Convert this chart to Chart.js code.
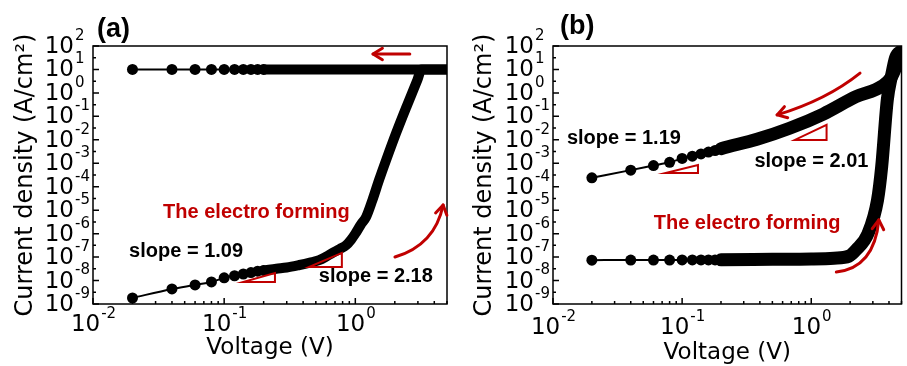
<!DOCTYPE html>
<html>
<head>
<meta charset="utf-8">
<script src="https://cdn.jsdelivr.net/npm/chart.js@4.4.1/dist/chart.umd.min.js"></script>
<style>
  html, body { margin: 0; padding: 0; background: #fff; }
  #wrap { position: relative; width: 907px; height: 366px; }
  .panel { position: absolute; top: 0; }
</style>
</head>
<body>
<div id="wrap">
  <div class="panel" style="left:0;width:460px;height:366px"><canvas id="chartA" width="460" height="366"></canvas></div>
  <div class="panel" style="left:460px;width:447px;height:366px"><canvas id="chartB" width="447" height="366"></canvas></div>
</div>
<script>
// axis ticks (decades) and their exponents
const xTicks = [0.01, 0.1, 1];
const xTickExp = ['-2', '-1', '0'];
const yTicks = [1e-9, 1e-8, 1e-7, 1e-6, 1e-5, 1e-4, 1e-3, 1e-2, 1e-1, 1, 10, 100];
const yTickExp = ['-9', '-8', '-7', '-6', '-5', '-4', '-3', '-2', '-1', '0', '1', '2'];

// (a) forming sweep (0 -> 5 V) and return sweep (5 -> 0 V)
const aFormV = [0.02, 0.04, 0.06, 0.08, 0.1, 0.12, 0.14, 0.16, 0.18, 0.2, 0.25, 0.3, 0.375, 0.45, 0.53, 0.6, 0.67, 0.76, 0.85, 0.93, 1.0, 1.1, 1.21, 1.35, 1.52, 1.72, 2.05, 2.45, 2.97, 3.2, 5];
const aFormJ = [1.8e-9, 4.4e-9, 6.5e-9, 8.7e-9, 1.3e-8, 1.6e-8, 1.9e-8, 2.2e-8, 2.5e-8, 2.7e-8, 3.2e-8, 3.6e-8, 4.6e-8, 5.8e-8, 7.4e-8, 1.05e-7, 1.5e-7, 2.2e-7, 3.2e-7, 5.6e-7, 1.0e-6, 2.4e-6, 5.2e-6, 2.7e-5, 2.0e-4, 1.4e-3, 2.0e-2, 0.25, 3.5, 10, 10];
const aBackV = [5, 3, 2, 1, 0.5, 0.3, 0.2, 0.18, 0.16, 0.14, 0.12, 0.1, 0.08, 0.06, 0.04, 0.02];
const aBackJ = [10, 10, 10, 10, 10, 10, 10, 10, 10, 10, 10, 10, 10, 10, 10, 10];

// (b)
const bFormV = [0.02, 0.04, 0.06, 0.08, 0.1, 0.12, 0.14, 0.16, 0.18, 0.2, 0.5, 1.0, 1.5, 1.96, 2.22, 2.75, 3.26, 3.51, 3.88, 4.17, 4.5, 5];
const bFormJ = [7.4e-8, 7.5e-8, 7.5e-8, 7.5e-8, 7.6e-8, 7.6e-8, 7.6e-8, 7.6e-8, 7.6e-8, 7.7e-8, 8.0e-8, 8.3e-8, 9.0e-8, 1.1e-7, 2.0e-7, 1.0e-6, 2.7e-5, 7.0e-4, 0.5, 4.8, 32, 63];
const bBackV = [5, 4.6, 4.2, 3.56, 2.22, 1.24, 0.68, 0.38, 0.2, 0.18, 0.16, 0.14, 0.12, 0.1, 0.08, 0.06, 0.04, 0.02];
const bBackJ = [63, 16, 5.0, 2.0, 0.69, 0.126, 0.031, 0.0105, 0.0042, 0.0035, 0.003, 0.0025, 0.002, 0.0016, 0.0011, 0.0008, 0.00051, 0.00024];

const RED = '#c00000';
const FONT = '"DejaVu Sans", sans-serif';
const NOTE_FONT = 'bold 20px "Liberation Sans", Arial, sans-serif';

function px(ca, p) { return [ca.left + p[0] * ca.width, ca.top + p[1] * ca.height]; }

// frame, inward ticks, 10^n labels and the red/black notes
const decor = {
  id: 'decor',
  afterDatasetsDraw(chart, args, opts) {
    const ctx = chart.ctx, ca = chart.chartArea;
    const xs = chart.scales.x, ys = chart.scales.y;
    ctx.save();
    ctx.strokeStyle = '#000';
    ctx.lineWidth = 1.5;
    ctx.strokeRect(ca.left, ca.top, ca.width, ca.height);

    ctx.beginPath();
    yTicks.forEach(v => {
      const p = ys.getPixelForValue(v);
      ctx.moveTo(ca.left, p); ctx.lineTo(ca.left + 6, p);
    });
    for (let i = 0; i < yTicks.length - 1; i++) {
      const p = (ys.getPixelForValue(yTicks[i]) + ys.getPixelForValue(yTicks[i + 1])) / 2;
      ctx.moveTo(ca.left, p); ctx.lineTo(ca.left + 3, p);
    }
    xTicks.forEach(d => {
      const p = xs.getPixelForValue(d);
      ctx.moveTo(p, ca.bottom); ctx.lineTo(p, ca.bottom - 6);
      for (let m = 2; m <= 9; m++) {
        if (d * m > xs.max) break;
        const q = xs.getPixelForValue(d * m);
        ctx.moveTo(q, ca.bottom); ctx.lineTo(q, ca.bottom - 3);
      }
    });
    ctx.stroke();

    ctx.fillStyle = '#000';
    ctx.textBaseline = 'middle';
    yTicks.forEach((v, i) => {
      const p = ys.getPixelForValue(v);
      ctx.font = '23px ' + FONT; ctx.textAlign = 'right';
      ctx.fillText('10', ca.left - 19, p + 1);
      ctx.font = '15px ' + FONT; ctx.textAlign = 'left';
      ctx.fillText(yTickExp[i], ca.left - 18, p - 10);
    });
    xTicks.forEach((v, i) => {
      const p = xs.getPixelForValue(v);
      ctx.font = '23px ' + FONT; const w1 = ctx.measureText('10').width;
      ctx.font = '15px ' + FONT; const w2 = ctx.measureText(xTickExp[i]).width;
      const x0 = p - (w1 + w2) / 2;
      ctx.textAlign = 'left';
      ctx.font = '23px ' + FONT; ctx.fillText('10', x0, ca.bottom + opts.xLabelDy);
      ctx.font = '15px ' + FONT; ctx.fillText(xTickExp[i], x0 + w1 + 1, ca.bottom + opts.xLabelDy - 11);
    });

    opts.notes.forEach(n => {
      if (n.text) {
        const [x, y] = px(ca, n.at);
        ctx.font = n.font || NOTE_FONT;
        ctx.fillStyle = n.color || '#000';
        ctx.textAlign = 'left';
        ctx.fillText(n.text, x, y);
      } else if (n.tri) {
        const pts = n.tri.map(p => px(ca, p));
        ctx.strokeStyle = RED; ctx.lineWidth = 2; ctx.lineJoin = 'miter';
        ctx.beginPath();
        ctx.moveTo(pts[0][0], pts[0][1]);
        ctx.lineTo(pts[1][0], pts[1][1]);
        ctx.lineTo(pts[2][0], pts[2][1]);
        ctx.closePath();
        ctx.stroke();
      } else if (n.arrow) {
        const [t, c, h] = n.arrow.map(p => px(ca, p));
        ctx.strokeStyle = RED; ctx.lineWidth = 3; ctx.lineCap = 'round'; ctx.lineJoin = 'round';
        ctx.beginPath();
        ctx.moveTo(t[0], t[1]);
        ctx.quadraticCurveTo(c[0], c[1], h[0], h[1]);
        ctx.stroke();
        const ang = Math.atan2(h[1] - c[1], h[0] - c[0]);
        ctx.beginPath();
        ctx.moveTo(h[0] - 11 * Math.cos(ang - 0.55), h[1] - 11 * Math.sin(ang - 0.55));
        ctx.lineTo(h[0], h[1]);
        ctx.lineTo(h[0] - 11 * Math.cos(ang + 0.55), h[1] - 11 * Math.sin(ang + 0.55));
        ctx.stroke();
      }
    });
    ctx.restore();
  }
};

function curve(V, J, band) {
  return {
    data: V.map((v, i) => ({x: v, y: J[i]})),
    borderColor: '#000',
    backgroundColor: '#000',
    borderWidth: 2,
    borderCapStyle: 'round',
    borderJoinStyle: 'round',
    pointRadius: ctx => (ctx.raw && ctx.raw.x <= 0.2 ? 5.5 : 0),
    pointHoverRadius: 0,
    pointBorderWidth: 0,
    segment: {
      borderWidth: ctx => (ctx.p0.parsed.x >= 0.199 && ctx.p1.parsed.x >= 0.199 ? band : 2)
    },
    cubicInterpolationMode: 'monotone',
    clip: 0
  };
}

function makeChart(id, sets, o) {
  return new Chart(document.getElementById(id), {
    type: 'line',
    data: { datasets: sets },
    options: {
      responsive: false,
      animation: false,
      devicePixelRatio: 1,
      events: [],
      layout: { padding: { top: 46, right: o.padRight, left: 0, bottom: 0 } },
      plugins: {
        legend: { display: false },
        tooltip: { enabled: false },
        decor: o.decor
      },
      scales: {
        x: {
          type: 'logarithmic', min: 0.01, max: 5,
          grid: { display: false }, border: { display: false },
          ticks: { display: false },
          afterBuildTicks: s => { s.ticks = xTicks.map(v => ({value: v})); },
          afterFit: s => { s.height = 62; },
          title: {
            display: true, text: 'Voltage (V)', color: '#000',
            font: { family: 'DejaVu Sans', size: 23, lineHeight: 1 },
            padding: { top: 0, bottom: o.xTitlePad }
          }
        },
        y: {
          type: 'logarithmic', min: 1e-9, max: 100,
          grid: { display: false }, border: { display: false },
          ticks: { display: false },
          afterBuildTicks: s => { s.ticks = yTicks.map(v => ({value: v})); },
          afterFit: s => { s.width = 93; },
          title: {
            display: true, text: 'Current density (A/cm²)', color: '#000',
            font: { family: 'DejaVu Sans', size: 24, lineHeight: 1 },
            padding: { top: o.yTitlePad, bottom: 0 }
          }
        }
      }
    },
    plugins: [decor]
  });
}

makeChart('chartA', [curve(aFormV, aFormJ, 10), curve(aBackV, aBackJ, 10)], {
  padRight: 13, xTitlePad: 6, yTitlePad: 14,
  decor: {
    xLabelDy: 21,
    notes: [
      { text: '(a)', at: [0.011, -0.062], font: 'bold 27px "Liberation Sans", Arial, sans-serif' },
      { text: 'The electro forming', at: [0.198, 0.647], color: RED },
      { text: 'slope = 1.09', at: [0.102, 0.795] },
      { text: 'slope = 2.18', at: [0.638, 0.895] },
      { tri: [[0.424, 0.915], [0.514, 0.915], [0.514, 0.88]] },
      { tri: [[0.61, 0.857], [0.703, 0.857], [0.703, 0.802]] },
      { arrow: [[0.895, 0.031], [0.843, 0.031], [0.791, 0.031]] },
      { arrow: [[0.853, 0.818], [0.966, 0.771], [0.989, 0.616]] }
    ]
  }
});

makeChart('chartB', [curve(bFormV, bFormJ, 13), curve(bBackV, bBackJ, 13)], {
  padRight: 1, xTitlePad: 1, yTitlePad: 12.5,
  decor: {
    xLabelDy: 24,
    notes: [
      { text: '(b)', at: [0.02, -0.074], font: 'bold 27px "Liberation Sans", Arial, sans-serif' },
      { text: 'slope = 1.19', at: [0.04, 0.357] },
      { text: 'slope = 2.01', at: [0.578, 0.446] },
      { text: 'The electro forming', at: [0.289, 0.686], color: RED },
      { tri: [[0.323, 0.492], [0.416, 0.492], [0.416, 0.461]] },
      { tri: [[0.694, 0.364], [0.785, 0.364], [0.785, 0.306]] },
      { arrow: [[0.881, 0.105], [0.785, 0.209], [0.643, 0.267]] },
      { arrow: [[0.813, 0.876], [0.922, 0.86], [0.935, 0.674]] }
    ]
  }
});
</script>
</body>
</html>
